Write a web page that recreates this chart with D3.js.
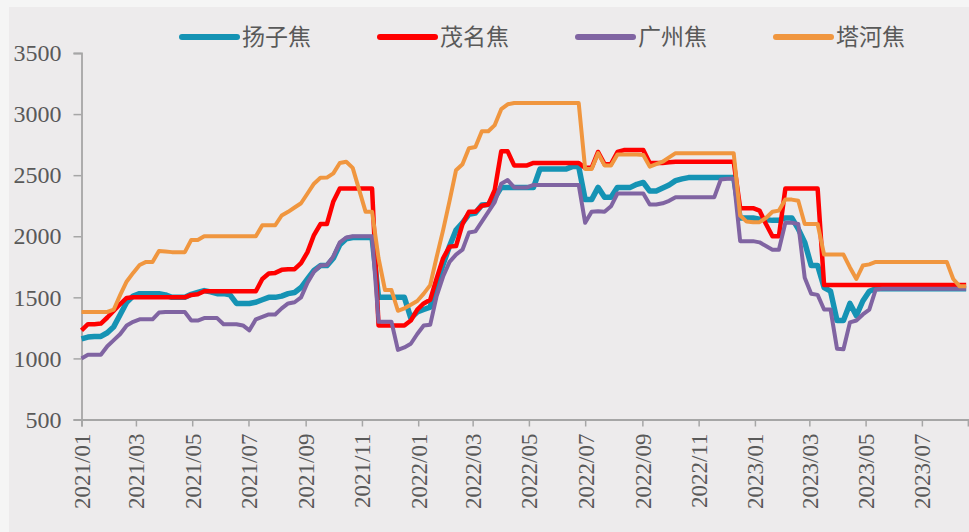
<!DOCTYPE html>
<html>
<head>
<meta charset="utf-8">
<script src="https://cdn.jsdelivr.net/npm/d3@7"></script>
<style>
  html, body { margin: 0; padding: 0; background: #f5f5f5; }
  svg { display: block; }
</style>
</head>
<body>
<div id="chart"></div>
<script>
// ---- data (weekly, starting 2021-01-01) ----
const seriesNames = ["扬子焦", "茂名焦", "广州焦", "塔河焦"];
const startDate = "2021-01-01";
const tickLabels = ["2021/01","2021/03","2021/05","2021/07","2021/09","2021/11","2022/01","2022/03","2022/05","2022/07","2022/09","2022/11","2023/01","2023/03","2023/05","2023/07"];
const yTicks = [500, 1000, 1500, 2000, 2500, 3000, 3500];

const yangzi = [
  1160,1175,1180,1180,1210,1260,1360,1460,1510,1530,
  1530,1530,1530,1520,1500,1500,1500,1525,1540,1555,
  1545,1530,1530,1520,1450,1450,1450,1460,1480,1500,
  1500,1510,1530,1540,1580,1650,1720,1760,1760,1820,
  1930,1980,1990,1990,1990,1990,1500,1500,1500,1500,
  1500,1330,1380,1400,1420,1610,1770,1920,2050,2110,
  2180,2190,2255,2260,2315,2400,2400,2400,2400,2400,
  2400,2550,2550,2550,2550,2550,2570,2570,2300,2300,
  2400,2320,2320,2400,2400,2400,2425,2440,2370,2370,
  2395,2420,2455,2470,2480,2480,2480,2480,2480,2480,
  2480,2480,2150,2150,2150,2140,2135,2130,2130,2150,
  2150,2060,1950,1760,1760,1580,1550,1310,1310,1450,
  1350,1470,1550,1570,1570,1570,1570,1570,1570,1570,
  1570,1570,1570,1570,1570,1570,1570,1570
];
const maoming = [
  1230,1280,1280,1285,1335,1390,1445,1495,1500,1500,
  1500,1500,1500,1500,1500,1500,1500,1520,1525,1550,
  1550,1550,1550,1550,1550,1550,1550,1550,1650,1695,
  1700,1725,1730,1730,1780,1870,2010,2100,2100,2285,
  2390,2390,2390,2390,2390,2390,1270,1270,1270,1270,
  1270,1310,1400,1450,1480,1655,1820,1915,1920,2100,
  2200,2200,2250,2260,2380,2695,2695,2580,2580,2580,
  2600,2600,2600,2600,2600,2600,2600,2600,2560,2560,
  2690,2590,2590,2690,2705,2705,2705,2705,2600,2600,
  2600,2605,2610,2610,2610,2610,2610,2610,2610,2610,
  2610,2610,2230,2230,2230,2210,2100,2000,2000,2390,
  2390,2390,2390,2390,2390,1600,1600,1600,1600,1600,
  1600,1600,1600,1600,1600,1600,1600,1600,1600,1600,
  1600,1600,1600,1600,1600,1600,1600,1600
];
const guangzhou = [
  1000,1030,1030,1030,1100,1150,1200,1270,1300,1320,
  1320,1320,1375,1380,1380,1380,1380,1310,1310,1330,
  1330,1330,1280,1280,1280,1270,1230,1320,1340,1360,
  1360,1410,1450,1460,1500,1620,1710,1760,1765,1835,
  1950,1990,2000,2000,2000,2000,1300,1300,1300,1070,
  1090,1120,1200,1270,1275,1510,1670,1790,1850,1890,
  2030,2040,2120,2200,2280,2430,2460,2400,2400,2400,
  2420,2420,2420,2420,2420,2420,2420,2420,2110,2200,
  2205,2200,2245,2350,2350,2350,2350,2350,2260,2260,
  2270,2290,2320,2320,2320,2320,2320,2320,2320,2465,
  2470,2470,1960,1960,1960,1950,1920,1890,1890,2110,
  2110,2100,1660,1530,1520,1400,1400,1080,1075,1295,
  1310,1360,1400,1565,1570,1570,1570,1570,1570,1570,
  1570,1570,1570,1570,1570,1570,1570,1570
];
const tahe = [
  1380,1380,1380,1380,1380,1400,1520,1630,1700,1765,
  1790,1790,1880,1875,1870,1870,1870,1970,1970,2000,
  2000,2000,2000,2000,2000,2000,2000,2000,2090,2090,
  2090,2170,2200,2235,2270,2350,2430,2478,2480,2515,
  2600,2610,2560,2380,2200,2200,1820,1560,1560,1390,
  1410,1440,1470,1530,1600,1830,2050,2290,2540,2590,
  2720,2730,2860,2860,2910,3040,3080,3090,3090,3090,
  3090,3090,3090,3090,3090,3090,3090,3090,2550,2550,
  2680,2580,2580,2670,2670,2670,2670,2665,2570,2590,
  2610,2645,2680,2680,2680,2680,2680,2680,2680,2680,
  2680,2680,2170,2120,2115,2115,2150,2200,2210,2300,
  2300,2290,2100,2100,2100,1850,1850,1850,1850,1745,
  1650,1760,1770,1790,1790,1790,1790,1790,1790,1790,
  1790,1790,1790,1790,1790,1650,1590,1590
];

const colors = ["#1593b4", "#ff0000", "#8064a2", "#f0963f"];
const widths = [5.5, 4.5, 4, 4];

// ---- build ----
const W = 969, H = 532;
const parse = d3.timeParse("%Y-%m-%d");
const t0 = parse(startDate);
const dates = yangzi.map((_, i) => d3.timeDay.offset(t0, 7 * i));
const allSeries = [yangzi, maoming, guangzhou, tahe];

const svg = d3.select("#chart").append("svg").attr("width", W).attr("height", H);
svg.append("rect").attr("width", W).attr("height", H).attr("fill", "#f5f5f5");
svg.append("rect").attr("x", 9).attr("y", 7).attr("width", W - 9).attr("height", H - 7).attr("fill", "#edebec");

const x = d3.scaleTime()
  .domain([parse("2021-01-01"), parse("2023-08-20")])
  .range([81.5, 968]);
const y = d3.scaleLinear().domain([500, 3500]).range([419.5, 53]);

const tickDates = tickLabels.map(s => d3.timeParse("%Y/%m")(s));
const axisColor = "#a6a6a6";
const labelFont = "'Liberation Serif', 'DejaVu Serif', serif";

// y axis
const gy = svg.append("g").attr("transform", "translate(81.5,0)")
  .call(d3.axisLeft(y).tickValues(yTicks).tickSize(8).tickPadding(12).tickFormat(d3.format("d")));
gy.select(".domain").attr("stroke", axisColor).attr("stroke-width", 1.8);
gy.selectAll(".tick line").attr("stroke", axisColor).attr("stroke-width", 1.5);
gy.selectAll(".tick text").attr("fill", "#595959").style("font-family", labelFont).style("font-size", "24px");

// x axis
const gx = svg.append("g").attr("transform", "translate(0,419.5)")
  .call(d3.axisBottom(x).tickValues(tickDates).tickSize(7).tickFormat(d3.timeFormat("%Y/%m")));
gx.select(".domain").attr("stroke", axisColor).attr("stroke-width", 1.8);
gx.selectAll(".tick line").attr("stroke", axisColor).attr("stroke-width", 1.5);
gx.selectAll(".tick text")
  .attr("fill", "#595959")
  .style("font-family", labelFont).style("font-size", "23px")
  .attr("text-anchor", "end")
  .attr("transform", "rotate(-90)")
  .attr("x", -14).attr("y", 0).attr("dy", "0.35em");

// lines
const line = d3.line().x((d, i) => x(dates[i])).y(d => y(d));
allSeries.forEach((s, k) => {
  svg.append("path").datum(s)
    .attr("fill", "none")
    .attr("stroke", colors[k])
    .attr("stroke-width", widths[k])
    .attr("stroke-linejoin", "round")
    .attr("d", line);
});

// legend
const legendX = [182, 380, 578, 776];
const lg = svg.append("g");
seriesNames.forEach((n, k) => {
  lg.append("line")
    .attr("x1", legendX[k]).attr("x2", legendX[k] + 55)
    .attr("y1", 37).attr("y2", 37)
    .attr("stroke", colors[k]).attr("stroke-width", 6).attr("stroke-linecap", "round");
  lg.append("text")
    .attr("x", legendX[k] + 60).attr("y", 37).attr("dy", "0.36em")
    .attr("fill", "#595959")
    .style("font-family", "'Noto Sans CJK SC', sans-serif")
    .style("font-size", "23px")
    .text(n);
});
</script>
</body>
</html>
